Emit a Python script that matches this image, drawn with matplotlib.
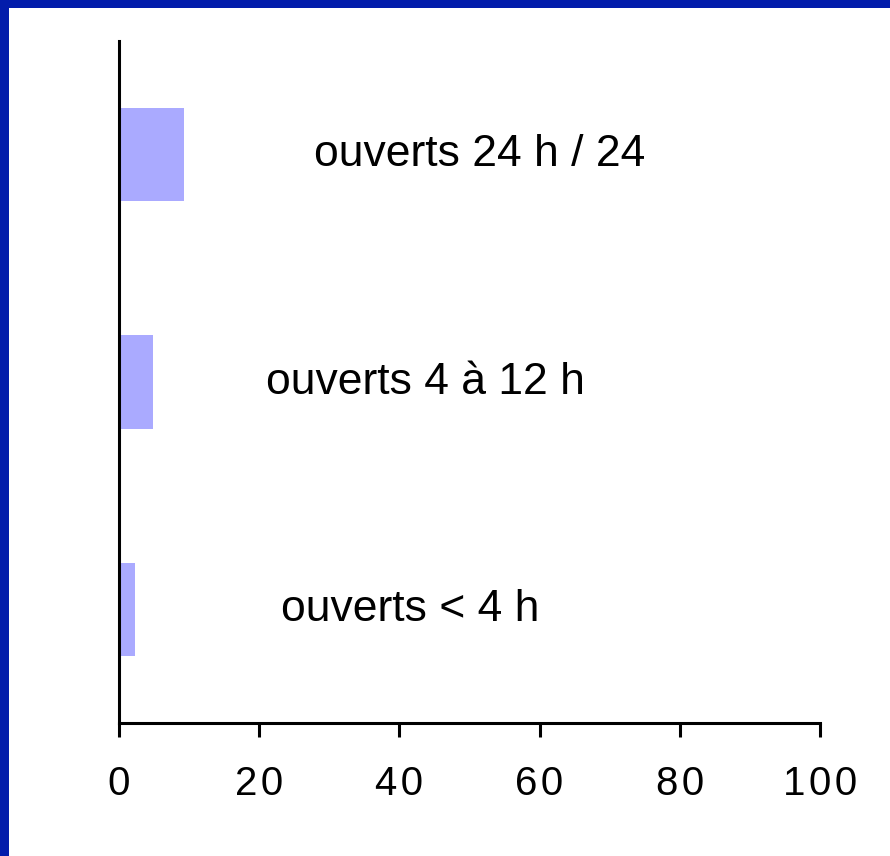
import matplotlib.pyplot as plt
from matplotlib.patches import Rectangle

plt.rcParams['font.family'] = ['Liberation Sans', 'DejaVu Sans']

# data
categories = ['ouverts < 4 h', 'ouverts 4 à 12 h', 'ouverts 24 h / 24']
values = [2.3, 4.8, 9.3]
label_x = [41.5, 43.7, 51.5]
xticks = [0, 20, 40, 60, 80, 100]

fig = plt.figure(figsize=(8.9, 8.56), dpi=100)
fig.patch.set_facecolor('white')

# dark blue frame on the top and left edges
border = '#021cab'
fig.patches.append(Rectangle((0, 1 - 8 / 856), 1, 8 / 856, transform=fig.transFigure,
                             facecolor=border, edgecolor='none', zorder=0))
fig.patches.append(Rectangle((0, 0), 8.5 / 890, 1, transform=fig.transFigure,
                             facecolor=border, edgecolor='none', zorder=0))

ax = fig.add_axes([119 / 890, 133 / 856, 701 / 890, 682 / 856])
pos = list(range(len(categories)))
ax.barh(pos, values, height=0.41, color='#aaaaff', edgecolor='none')

for p, name, lx in zip(pos, categories, label_x):
    ax.text(lx, p, name, ha='center', va='center', fontsize=32)

ax.set_xlim(0, 100)
ax.set_ylim(-0.5, 2.5)
ax.set_xticks(xticks)
# the reference spaces its digits out a little
ax.set_xticklabels(['\u200a'.join(str(t)) for t in xticks], fontsize=29)
ax.set_yticks([])
ax.tick_params(axis='x', length=10, width=2.2, pad=20)
for side in ['top', 'right']:
    ax.spines[side].set_visible(False)
for side in ['left', 'bottom']:
    ax.spines[side].set_linewidth(2.2)

fig.savefig('out.png', dpi=100)
